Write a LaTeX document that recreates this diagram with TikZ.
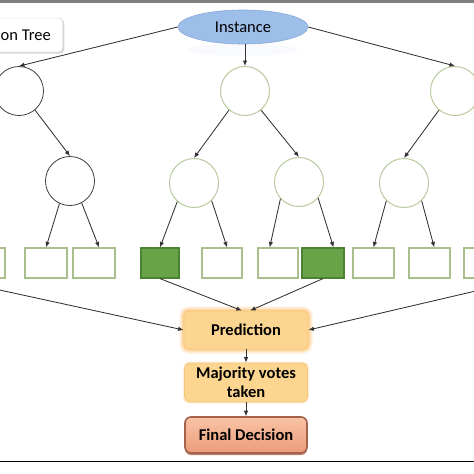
\documentclass[tikz,border=0pt]{standalone}
\usepackage{fontspec}
\setmainfont{Carlito}
\usetikzlibrary{arrows.meta,shapes.geometric,shadows}
\definecolor{arrowc}{HTML}{333333}
\definecolor{leafg}{HTML}{A9BF8E}
\definecolor{circg}{HTML}{B8CB9F}
\definecolor{fillg}{HTML}{66A447}
\definecolor{drkg}{HTML}{4C8233}
\definecolor{instc}{HTML}{9DBEE8}
\definecolor{instb}{HTML}{86A8D8}
\definecolor{predc}{HTML}{FCD690}
\definecolor{predb}{HTML}{F6C77A}
\definecolor{glowc}{HTML}{FFB75A}
\definecolor{fintop}{HTML}{F8C4A6}
\definecolor{finbot}{HTML}{EC9C7A}
\definecolor{finb}{HTML}{A5624A}
\begin{document}
\begin{tikzpicture}[x=1pt,y=-1pt,
  font=\fontsize{16.5}{19}\selectfont,
  arr/.style={draw=arrowc, line width=0.85pt, -{Latex[length=5.5pt,width=4.5pt]}},
  dcirc/.style={circle, draw=black!75, line width=0.8pt, minimum size=49pt, inner sep=0pt},
  gcirc/.style={circle, draw=circg, line width=1pt, minimum size=49pt, inner sep=0pt},
  leaf/.style={rectangle, draw=leafg, line width=1.2pt, minimum height=30pt, inner sep=0pt},
  gleaf/.style={leaf, draw=drkg, fill=fillg},
  predbox/.style={rectangle, rounded corners=5pt, fill=predc, draw=predb, line width=0.8pt,
    minimum width=124pt, minimum height=38pt, inner sep=2pt, align=center,
    preaction={draw=glowc, line width=9pt, opacity=.25},
    preaction={draw=glowc, line width=4.5pt, opacity=.45}},
  majbox/.style={rectangle, rounded corners=5pt, fill=predc, draw=predb, line width=0.8pt,
    minimum width=123pt, minimum height=39pt, inner sep=1pt, align=center,
    preaction={draw=glowc, line width=3pt, opacity=.2}},
  finbox/.style={rectangle, rounded corners=6pt, top color=fintop, bottom color=finbot,
    draw=finb, line width=1.6pt, minimum width=122pt, minimum height=36pt, inner sep=1pt,
    drop shadow={shadow xshift=0pt, shadow yshift=-2pt, fill=finb, opacity=.8}},
  instbox/.style={ellipse, fill=instc, draw=instb, line width=0.6pt,
    minimum width=130pt, minimum height=34pt, inner sep=0pt},
  labbox/.style={rectangle, draw=black!20, fill=white, rounded corners=4pt,
    inner xsep=12pt, minimum height=34pt,
    drop shadow={opacity=.3, shadow xshift=1.5pt, shadow yshift=-1.5pt}}
]
\clip (0,0) rectangle (474,474);
\fill[white] (0,0) rectangle (474,474);
% frame lines
\fill[black!50] (0,0) rectangle (474,2.5);
\fill[black] (0,460.5) rectangle (474,462.3);

% faint reflection under Instance
\fill[instc!7] (243,50) ellipse [x radius=55pt, y radius=6pt];

% nodes
\node[labbox, anchor=east] (dt) at (63,35) {on Tree};
\node[instbox] (inst) at (243,27) {Instance};

\node[dcirc] (A) at (19,91) {};
\node[gcirc] (B) at (245,91) {};
\node[gcirc] (C) at (455,91) {};

\node[dcirc] (D) at (70,181) {};
\node[gcirc] (E) at (194,183) {};
\node[gcirc] (F) at (299,182) {};
\node[gcirc] (G) at (404,183) {};

\node[leaf, minimum width=44pt] (L1) at (-17,263) {};
\node[leaf, minimum width=42pt] (L2) at (46,263) {};
\node[leaf, minimum width=42pt] (L3) at (94,263) {};
\node[gleaf, minimum width=38pt] (L4) at (160,263) {};
\node[leaf, minimum width=40pt] (L5) at (222,263) {};
\node[leaf, minimum width=40pt] (L6) at (278,263) {};
\node[gleaf, minimum width=42pt] (L7) at (323,263) {};
\node[leaf, minimum width=41pt] (L8) at (373.5,263) {};
\node[leaf, minimum width=41pt] (L9) at (429.5,263) {};
\node[leaf, minimum width=42pt] (L10) at (485,263) {};

\node[predbox] (pred) at (246,330) {\textbf{Prediction}};
\node[majbox] (maj) at (246,382.5) {\textbf{Majority votes}\\\textbf{taken}};
\node[finbox] (fin) at (246,435) {\textbf{Final Decision}};

\coordinate (lin) at (-5,289);
\coordinate (rin) at (480,290);

% connectors
\draw[arr] (inst.west) -- (A.north);
\draw[arr] (B.north |- inst.south) -- (B.north);
\draw[arr] (inst.east) -- (C.north);
\draw[arr] (A.-50) -- (D.north);
\draw[arr] (B.-130) -- (E.north);
\draw[arr] (B.-50) -- (F.north);
\draw[arr] (C.-130) -- (G.north);
\draw[arr] (D.-115) -- (L2.north);
\draw[arr] (D.-62) -- (L3.72);
\draw[arr] (E.-132) -- (L4.north);
\draw[arr] (E.-45) -- (L5.72);
\draw[arr] (F.-138) -- (L6.118);
\draw[arr] (F.-40) -- (L7.56);
\draw[arr] (G.-135) -- (L8.north);
\draw[arr] (G.-45) -- (L9.73);
\draw[arr] (lin) -- (pred.west);
\draw[arr] (rin) -- (pred.east);
\draw[arr] (L4.south) -- (pred.102);
\draw[arr] (L7.south) -- (pred.78);
\draw[arr] (pred.south) -- (maj.north);
\draw[arr] (maj.south) -- (fin.north);
\end{tikzpicture}
\end{document}
